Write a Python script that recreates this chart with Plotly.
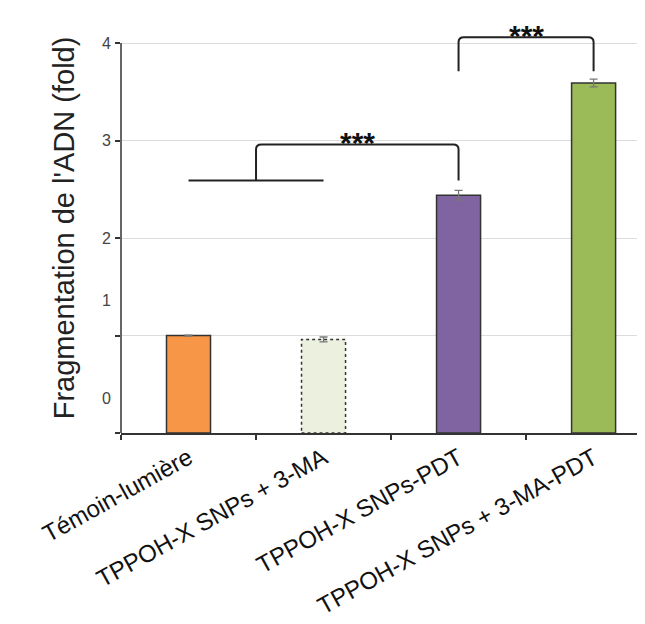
import plotly.graph_objects as go

# ---- data ----
categories = ["Témoin-lumière", "TPPOH-X SNPs + 3-MA", "TPPOH-X SNPs-PDT", "TPPOH-X SNPs + 3-MA-PDT"]
values = [1.00, 0.96, 2.44, 3.59]
errors = [0.005, 0.025, 0.05, 0.04]
colors = ["#F79646", "#EBF1DE", "#8064A2", "#9BBB59"]
y_ticks = [0, 1, 2, 3, 4]
y_tick_text = ["0", "1", "2", "3", "4"]
y_label_pos = [0.36, 1.36, 2, 3, 4]   # tick labels as printed in the figure
y_title = "Fragmentation de l'ADN (fold)"
# significance: reference line (from, to, level); brackets (left, right, bottom-left, bottom-right, top, text)
ref_line = (0, 1, 2.59)
brackets = [
    (0.5, 2, 2.59, 2.59, 2.96, "***"),
    (2, 3, 3.71, 3.71, 4.06, "***"),
]

FONT = "Liberation Sans, Arial, sans-serif"
bar_w = 0.326

fig = go.Figure()
fig.add_trace(go.Bar(
    x=categories, y=values, width=bar_w,
    marker=dict(color=colors,
                line=dict(color="#333333", width=[1.5, 0, 1.5, 1.5])),
    error_y=dict(type="data", array=errors, color="#777777", thickness=1.3, width=4),
    showlegend=False, hoverinfo="skip",
))
# invisible trace to carry the label axis
fig.add_trace(go.Scatter(x=[categories[0]], y=[0], yaxis="y2", mode="markers",
                         marker=dict(opacity=0), showlegend=False, hoverinfo="skip"))

shapes = []
# dotted outline of the 3-MA bar
shapes.append(dict(type="rect", xref="x", yref="y", x0=1 - bar_w / 2, x1=1 + bar_w / 2,
                   y0=0, y1=values[1], line=dict(color="#333333", width=1.5, dash="dot")))
# y axis line up to the top tick
shapes.append(dict(type="line", xref="paper", yref="y", x0=0, x1=0, y0=0, y1=max(y_ticks),
                   line=dict(color="#333333", width=1.5)))
# reference line
shapes.append(dict(type="line", xref="x", yref="y", x0=ref_line[0], x1=ref_line[1],
                   y0=ref_line[2], y1=ref_line[2], line=dict(color="#222222", width=2)))
annotations = []
rx, ry = 0.04, 0.05
for (xl, xr, yl, yr, yt, txt) in brackets:
    path = (f"M {xl},{yl} L {xl},{yt - ry} Q {xl},{yt} {xl + rx},{yt} "
            f"L {xr - rx},{yt} Q {xr},{yt} {xr},{yt - ry} L {xr},{yr}")
    shapes.append(dict(type="path", xref="x", yref="y", path=path,
                       line=dict(color="#222222", width=2)))
    annotations.append(dict(x=(xl + xr) / 2, y=yt, xref="x", yref="y", text="<b>" + txt + "</b>",
                            showarrow=False, yanchor="middle", yshift=2,
                            font=dict(family=FONT, size=30, color="#111111")))
annotations.append(dict(x=0, y=2.1, xref="paper", yref="y", text=y_title, textangle=-90,
                        showarrow=False, xanchor="center", yanchor="middle", xshift=-57,
                        font=dict(family=FONT, size=29, color="#222222")))

fig.update_layout(
    width=645, height=624,
    margin=dict(l=113, r=0, t=0, b=199, pad=0),
    paper_bgcolor="white", plot_bgcolor="white",
    shapes=shapes, annotations=annotations,
    xaxis=dict(type="category", categoryorder="array", categoryarray=categories,
               range=[-0.5, 3.44], showline=True, linecolor="#333333", linewidth=1.5,
               ticks="outside", tickson="boundaries", ticklen=5, tickcolor="#333333",
               tickwidth=1.5, tickangle=-29, showgrid=False, automargin=False,
               tickfont=dict(family=FONT, size=24, color="#111111")),
    yaxis=dict(range=[0, 4.36], tickvals=y_ticks, showticklabels=False,
               ticks="outside", ticklen=5, tickcolor="#333333", tickwidth=1.5,
               showgrid=True, gridcolor="#dcdcdc", gridwidth=1.2, zeroline=False,
               showline=False, automargin=False),
    yaxis2=dict(overlaying="y", side="left", range=[0, 4.36], tickvals=y_label_pos,
                ticktext=y_tick_text, ticks="outside", ticklen=6, automargin=False,
                tickcolor="rgba(0,0,0,0)", showgrid=False, zeroline=False, showline=False,
                tickfont=dict(family=FONT, size=16, color="#444444")),
)

fig.write_html("out.html")
